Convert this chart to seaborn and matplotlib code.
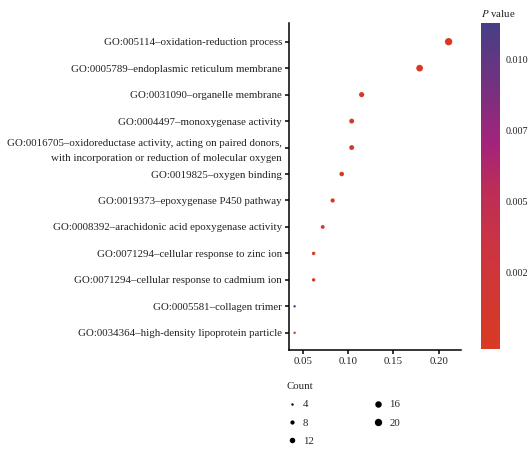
import matplotlib
matplotlib.use("Agg")
import matplotlib.pyplot as plt
from matplotlib.colors import LinearSegmentedColormap, Normalize
from matplotlib.cm import ScalarMappable
from matplotlib.lines import Line2D
import seaborn as sns
import pandas as pd

terms = [
    "GO:005114\u2013oxidation-reduction process",
    "GO:0005789\u2013endoplasmic reticulum membrane",
    "GO:0031090\u2013organelle membrane",
    "GO:0004497\u2013monoxygenase activity",
    "GO:0016705\u2013oxidoreductase activity, acting on paired donors,\nwith incorporation or reduction of molecular oxygen",
    "GO:0019825\u2013oxygen binding",
    "GO:0019373\u2013epoxygenase P450 pathway",
    "GO:0008392\u2013arachidonic acid epoxygenase activity",
    "GO:0071294\u2013cellular response to zinc ion",
    "GO:0071294\u2013cellular response to cadmium ion",
    "GO:0005581\u2013collagen trimer",
    "GO:0034364\u2013high-density lipoprotein particle",
]
gene_ratio = [0.211, 0.179, 0.115, 0.104, 0.104, 0.093, 0.083, 0.072, 0.062, 0.062, 0.041, 0.041]
counts = [20, 17, 11, 10, 10, 9, 8, 7, 6, 6, 4, 4]
pvalues = [1e-6, 1e-5, 2e-4, 1e-5, 2e-5, 5e-5, 1e-4, 2e-4, 1e-4, 2e-4, 0.0113, 0.0012]

cbar_ticks = [0.0025, 0.005, 0.0075, 0.010]
cbar_labels = ["0.002", "0.005", "0.007", "0.010"]
legend_counts = [4, 8, 12, 16, 20]
x_ticks = [0.05, 0.10, 0.15, 0.20]
x_labels = ["0.05", "0.10", "0.15", "0.20"]

df = pd.DataFrame({"term": terms, "ratio": gene_ratio, "count": counts, "p": pvalues})

sns.set_style("ticks")
plt.rcParams["font.family"] = ["Liberation Serif", "DejaVu Serif"]
plt.rcParams["mathtext.fontset"] = "stix"

cmap = LinearSegmentedColormap.from_list(
    "pv", [(0.0, "#d83a22"), (0.3, "#cc3540"), (0.5, "#bb2c5a"),
           (0.62, "#a6237a"), (0.8, "#77307f"), (1.0, "#463f86")])
vmin, vmax = -0.0002, 0.0113
norm = Normalize(vmin=vmin, vmax=vmax)

def size_of(c):
    return 3 + (c - 4) / 16 * 25

fig = plt.figure(figsize=(5.29, 4.49), dpi=100)
ax = fig.add_axes([0.5463, 0.2205, 0.3252, 0.7283])

sns.scatterplot(data=df, x="ratio", y="term", hue="p", size="count",
                palette=cmap, hue_norm=norm, sizes=(size_of(4), size_of(20)),
                size_norm=(4, 20), linewidth=0, legend=False, ax=ax)

ax.set_xlim(0.0348, 0.2247)
ax.set_ylim(11.65, -0.707)
ax.set_xticks(x_ticks)
ax.set_xticklabels(x_labels)
ax.set_xlabel("")
ax.set_ylabel("")
for s in ["top", "right"]:
    ax.spines[s].set_visible(False)
for s in ["left", "bottom"]:
    ax.spines[s].set_linewidth(1.1)
    ax.spines[s].set_color("black")
ax.tick_params(axis="both", length=3, width=1.1, color="black",
               labelsize=7.8, labelcolor="#222222", pad=2)
for lab in ax.get_yticklabels():
    lab.set_linespacing(1.6)

cax = fig.add_axes([0.9093, 0.222, 0.0359, 0.7274])
sm = ScalarMappable(norm=norm, cmap=cmap)
cb = fig.colorbar(sm, cax=cax)
cb.outline.set_visible(False)
cb.set_ticks(cbar_ticks)
cb.set_ticklabels(cbar_labels)
cax.yaxis.set_ticks_position("both")
cax.tick_params(direction="in", color="white", length=3, width=1,
                labelsize=7.3, labelcolor="#222222", labelleft=False,
                labelright=True, pad=4)
fig.text(0.909, 0.958, r"$\mathit{P}$ value", fontsize=7.8, ha="left",
         va="bottom", color="#222222")

handles = [Line2D([], [], marker="o", linestyle="", color="black",
                  markeredgewidth=0, markersize=size_of(c) ** 0.5)
           for c in legend_counts]
leg = fig.legend(handles, [str(c) for c in legend_counts], title="Count",
                 loc="upper left", bbox_to_anchor=(0.527, 0.166), ncol=2,
                 frameon=False, fontsize=7.8, title_fontsize=7.8,
                 handlelength=1.0, handletextpad=0.5, columnspacing=5.5,
                 labelspacing=0.8, alignment="left", borderpad=0.2)

fig.savefig("out.png", dpi=100)
